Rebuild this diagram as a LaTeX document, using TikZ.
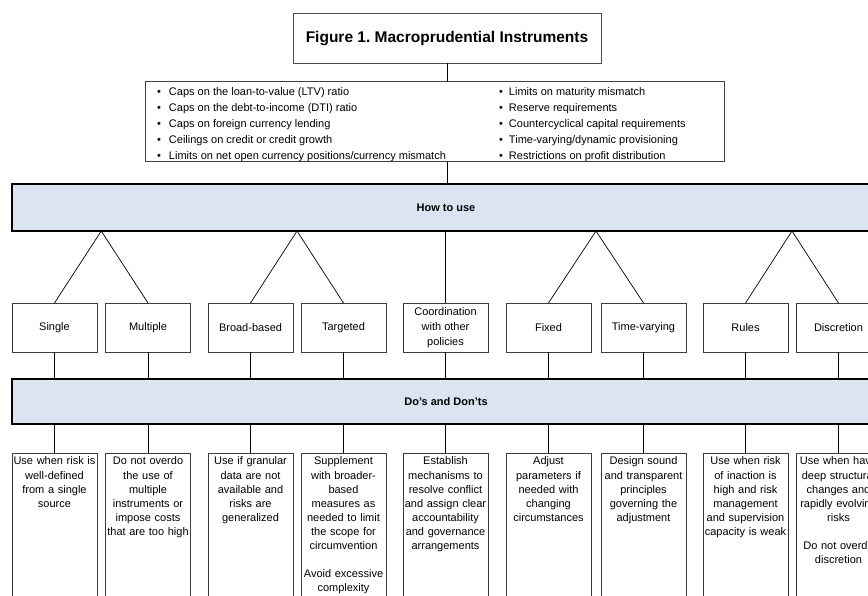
\documentclass[tikz,border=0pt]{standalone}
\usepackage{fontspec}
\setmainfont{Liberation Sans}
\usetikzlibrary{calc}
\definecolor{barblue}{RGB}{218,229,241}
\definecolor{boxline}{RGB}{60,60,60}
\begin{document}
\frenchspacing
\begin{tikzpicture}[x=1pt,y=-1pt,
  every node/.style={inner sep=0pt, outer sep=0pt},
  titlebox/.style={draw=black!70, line width=0.8pt, minimum width=308pt, minimum height=50pt, text height=11pt, text depth=1pt, font=\fontsize{15.5}{18}\selectfont\bfseries},
  listbox/.style={draw=black!75, line width=1pt, minimum width=579pt, minimum height=80pt},
  bar/.style={draw=black, line width=2pt, fill=barblue, minimum width=868pt, font=\fontsize{11}{13}\selectfont\bfseries},
  optbox/.style={draw=boxline, line width=0.8pt, minimum width=85pt, minimum height=49pt, align=center, font=\fontsize{11}{14.7}\selectfont},
  dobox/.style={draw=boxline, line width=0.8pt, minimum width=85pt, minimum height=200pt, anchor=north},
  dotext/.style={anchor=north, text width=86pt, align=center, font=\fontsize{11}{14.1}\selectfont},
  listtext/.style={anchor=base west, font=\fontsize{11}{16}\selectfont},
  conn/.style={draw=black, line width=0.7pt}
]
\useasboundingbox (0,0) rectangle (868,596);
\begin{scope}
\clip (0,0) rectangle (868,596);
\fill[white] (0,0) rectangle (868,596);
% title and list
\node[titlebox] (title) at (447,38) {Figure 1. Macroprudential Instruments};
\node[listbox] (list) at (434.5,122) {};
\foreach \t [count=\i] in {{Caps on the loan-to-value (LTV) ratio},{Caps on the debt-to-income (DTI) ratio},{Caps on foreign currency lending},{Ceilings on credit or credit growth},{Limits on net open currency positions/currency mismatch}}
  {\node[listtext] (la\i) at (157,79.5+16*\i) {\makebox[12pt][l]{\textbullet}\t};}
\foreach \t [count=\i] in {{Limits on maturity mismatch},{Reserve requirements},{Countercyclical capital requirements},{Time-varying/dynamic provisioning},{Restrictions on profit distribution}}
  {\node[listtext] (lb\i) at (499,79.5+16*\i) {\makebox[10pt][l]{\textbullet}\t};}
% bars
\node[bar, minimum height=47pt] (how) at (446,207.5) {How to use};
\node[bar, minimum height=45pt] (dos) at (446,401.5) {Do's and Don'ts};
% first row
\node[optbox] (single) at (54.5,327.5) {Single};
\node[optbox] (multiple) at (148,327.5) {Multiple};
\node[optbox] (broad) at (250.5,327.5) {Broad-based};
\node[optbox] (targeted) at (343.5,327.5) {Targeted};
\node[optbox] (coord) at (445.5,327.5) {Coordination\\with other\\policies};
\node[optbox] (fixed) at (548.5,327.5) {Fixed};
\node[optbox] (timev) at (643.5,327.5) {Time-varying};
\node[optbox] (rules) at (745.5,327.5) {Rules};
\node[optbox] (discr) at (838.5,327.5) {Discretion};
% second row
\node[dobox] (dsingle) at (54.5,453) {};
\node[dobox] (dmultiple) at (148,453) {};
\node[dobox] (dbroad) at (250.5,453) {};
\node[dobox] (dtargeted) at (343.5,453) {};
\node[dobox] (dcoord) at (445.5,453) {};
\node[dobox] (dfixed) at (548.5,453) {};
\node[dobox] (dtimev) at (643.5,453) {};
\node[dobox] (drules) at (745.5,453) {};
\node[dobox] (ddiscr) at (838.5,453) {};
\node[dotext] (tsingle) at ($(dsingle.north)+(0,4)$) {Use when risk is\\well-defined\\from a single\\source};
\node[dotext] (tmultiple) at ($(dmultiple.north)+(0,4)$) {Do not overdo\\the use of\\multiple\\instruments or\\impose costs\\that are too high};
\node[dotext] (tbroad) at ($(dbroad.north)+(0,4)$) {Use if granular\\data are not\\available and\\risks are\\generalized};
\node[dotext] (ttargeted) at ($(dtargeted.north)+(0,4)$) {Supplement\\with broader-\\based\\measures as\\needed to limit\\the scope for\\circumvention\\[14.1pt]Avoid excessive\\complexity};
\node[dotext] (tcoord) at ($(dcoord.north)+(0,4)$) {Establish\\mechanisms to\\resolve conflict\\and assign clear\\accountability\\and governance\\arrangements};
\node[dotext] (tfixed) at ($(dfixed.north)+(0,4)$) {Adjust\\parameters if\\needed with\\changing\\circumstances};
\node[dotext] (ttimev) at ($(dtimev.north)+(0,4)$) {Design sound\\and transparent\\principles\\governing the\\adjustment};
\node[dotext] (trules) at ($(drules.north)+(0,4)$) {Use when risk\\of inaction is\\high and risk\\management\\and supervision\\capacity is weak};
\node[dotext] (tdiscr) at ($(ddiscr.north)+(0,4)$) {Use when have\\deep structural\\changes and\\rapidly evolving\\risks\\[14.1pt]Do not overdo\\discretion};
% connectors
\draw[conn] (title.south) -- (list.north -| title.south);
\draw[conn] (list.south -| title.south) -- (how.north -| title.south);
\draw[conn] (how.south -| coord.north) -- (coord.north);
\coordinate (a1) at ($(single.north)!0.5!(multiple.north)$);
\coordinate (a2) at ($(broad.north)!0.5!(targeted.north)$);
\coordinate (a3) at ($(fixed.north)!0.5!(timev.north)$);
\coordinate (a4) at ($(rules.north)!0.5!(discr.north)$);
\draw[conn] (single.north) -- (a1 |- how.south) -- (multiple.north);
\draw[conn] (broad.north) -- (a2 |- how.south) -- (targeted.north);
\draw[conn] (fixed.north) -- (a3 |- how.south) -- (timev.north);
\draw[conn] (rules.north) -- (a4 |- how.south) -- (discr.north);
\foreach \n in {single,multiple,broad,targeted,coord,fixed,timev,rules,discr}{
  \draw[conn] (\n.south) -- (\n.south |- dos.north);
  \draw[conn] (dos.south -| d\n.north) -- (d\n.north);
}
\end{scope}
\end{tikzpicture}
\end{document}
